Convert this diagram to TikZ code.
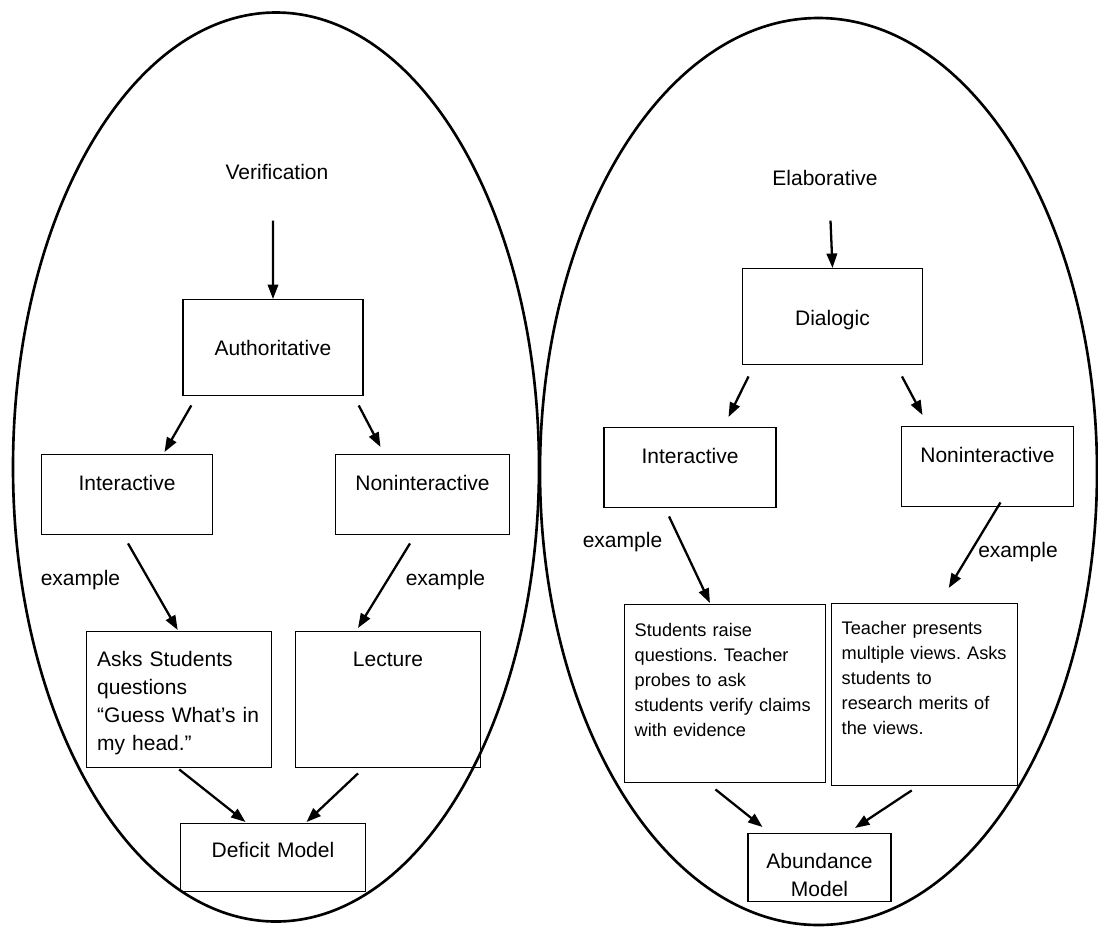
\documentclass[tikz,border=0pt]{standalone}
\usepackage{fontspec}
\setmainfont{Liberation Sans}
\usepackage{tikz}
\usetikzlibrary{arrows.meta,positioning}

\newcommand{\mainfs}{\fontsize{11.95pt}{15.9pt}\selectfont}
\newcommand{\smallfs}{\fontsize{10.36pt}{14.2pt}\selectfont}
\frenchspacing

\begin{document}
\begin{tikzpicture}[
    blk/.style={draw, line width=0.8pt, inner sep=0pt, align=center, font=\mainfs},
    blkl/.style={blk, align=left, inner xsep=0.21cm},
    lbl/.style={inner sep=0pt, font=\mainfs},
    oval/.style={draw, line width=1.5pt},
    arr/.style={-{Triangle[length=0.29cm, width=0.21cm]}, line width=1.3pt}
]
\useasboundingbox (0,0) rectangle (21.96,-18.52);

% the two ovals
\draw[oval] (5.52,-9.34) ellipse [x radius=5.26, y radius=9.09];
\draw[oval] (16.37,-9.43) ellipse [x radius=5.57, y radius=9.07];

% left side
\node[lbl] (verif) at (5.54,-3.44) {Verification};
\node[blk, anchor=north, text width=3.60cm, text height=1.12cm, text depth=0.80cm] (auth) at (5.46,-5.98) {Authoritative};
\node[blk, anchor=north, text width=3.43cm, text height=0.71cm, text depth=0.89cm] (intL) at (2.54,-9.08) {Interactive};
\node[blk, anchor=north, text width=3.47cm, text height=0.71cm, text depth=0.89cm] (nonL) at (8.45,-9.08) {Noninteractive};
\node[blkl, anchor=north west, text width=3.28cm, text height=0.69cm, text depth=2.03cm] (asks) at (1.72,-12.62) {Asks Students\\questions\\“Guess What’s in\\my head.”};
\node[blk, anchor=north, text width=3.70cm, text height=0.69cm, text depth=2.03cm] (lect) at (7.76,-12.62) {Lecture};
\node[blk, anchor=north, text width=3.71cm, text height=0.67cm, text depth=0.69cm] (defi) at (5.46,-16.46) {Deficit Model};
\node[lbl] (ex1) at (1.61,-11.60) {example};
\node[lbl] (ex2) at (8.91,-11.60) {example};

\draw[arr] ([xshift=-0.08cm, yshift=-0.81cm]verif.south) -- (auth.north);
\draw[arr] ([xshift=0.18cm, yshift=-0.18cm]auth.south west) -- ([xshift=0.75cm, yshift=0.04cm]intL.north);
\draw[arr] ([xshift=-0.10cm, yshift=-0.18cm]auth.south east) -- ([xshift=-0.84cm, yshift=0.14cm]nonL.north);
\draw[arr] ([xshift=0.02cm, yshift=-0.16cm]intL.south) -- ([xshift=-0.03cm, yshift=0.02cm]asks.north);
\draw[arr] ([xshift=-0.25cm, yshift=-0.16cm]nonL.south) -- ([xshift=-0.60cm, yshift=0.06cm]lect.north);
\draw[arr] ([yshift=-0.02cm]asks.south) -- ([xshift=-0.55cm, yshift=0.02cm]defi.north);
\draw[arr] ([xshift=-0.60cm, yshift=-0.10cm]lect.south) -- ([xshift=0.67cm, yshift=0.02cm]defi.north);

% right side
\node[lbl] (elab) at (16.50,-3.56) {Elaborative};
\node[blk, anchor=north, text width=3.59cm, text height=1.13cm, text depth=0.79cm] (dial) at (16.65,-5.36) {Dialogic};
\node[blk, anchor=north, text width=3.44cm, text height=0.71cm, text depth=0.89cm] (intR) at (13.80,-8.54) {Interactive};
\node[blk, anchor=north, text width=3.45cm, text height=0.71cm, text depth=0.89cm] (nonR) at (19.75,-8.52) {Noninteractive};
\node[blkl, anchor=north west, font=\smallfs, text width=3.61cm, text height=0.63cm, text depth=2.93cm] (stud) at (12.47,-12.08) {Students raise\\questions. Teacher\\probes to ask\\students verify claims\\with evidence};
\node[blkl, anchor=north west, font=\smallfs, text width=3.30cm, text height=0.61cm, text depth=3.03cm] (teach) at (16.61,-12.06) {Teacher presents\\multiple views. Asks\\students to\\research merits of\\the views.};
\node[blk, anchor=north, text width=2.86cm, text height=0.69cm, text depth=0.67cm] (abun) at (16.39,-16.66) {Abundance\\Model};
\node[lbl] (ex3) at (12.45,-10.84) {example};
\node[lbl] (ex4) at (20.36,-11.04) {example};

\draw[arr] ([xshift=0.11cm, yshift=-0.69cm]elab.south) -- (dial.north);
\draw[arr] ([xshift=0.13cm, yshift=-0.22cm]dial.south west) -- ([xshift=0.77cm, yshift=0.20cm]intR.north);
\draw[arr] ([xshift=-0.42cm, yshift=-0.22cm]dial.south east) -- ([xshift=-1.30cm, yshift=0.22cm]nonR.north);
\draw[arr] ([xshift=-0.42cm, yshift=-0.16cm]intR.south) -- ([xshift=-0.30cm, yshift=0.02cm]stud.north);
\draw[arr] ([xshift=0.26cm, yshift=0.10cm]nonR.south) -- ([xshift=0.49cm, yshift=0.30cm]teach.north);
\draw[arr] ([xshift=-0.19cm, yshift=-0.12cm]stud.south) -- ([xshift=-1.14cm, yshift=0.12cm]abun.north);
\draw[arr] ([xshift=-0.25cm, yshift=-0.08cm]teach.south) -- ([xshift=0.71cm, yshift=0.10cm]abun.north);
\end{tikzpicture}
\end{document}
